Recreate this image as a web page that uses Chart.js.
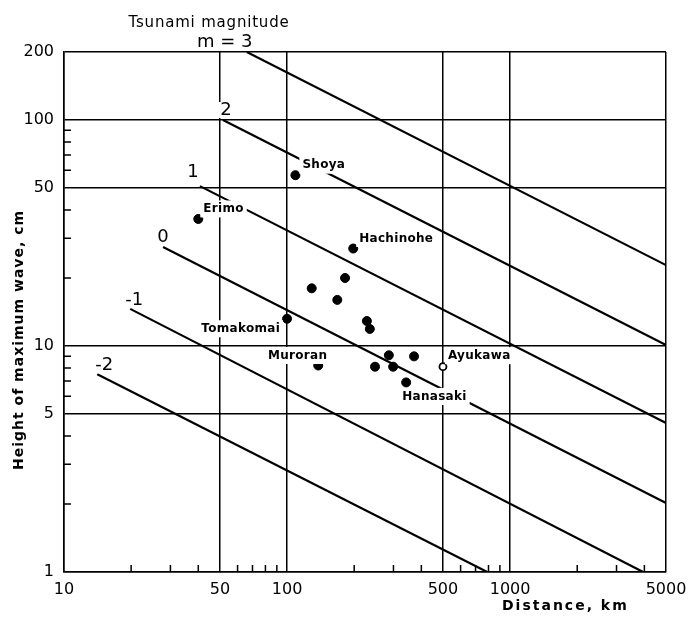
<!DOCTYPE html>
<html>
<head>
<meta charset="utf-8">
<title>Tsunami magnitude</title>
<script src="https://cdn.jsdelivr.net/npm/chart.js@4.4.1/dist/chart.umd.min.js"></script>
<style>
  html, body { margin: 0; padding: 0; background: #fff; }
  #wrap { width: 689px; height: 617px; position: relative; }
</style>
</head>
<body>
<div id="wrap"><canvas id="tsunami-chart"></canvas></div>
<script>
// Stations: distance (km) and height of maximum wave (cm)
const distances = [109, 40, 198, 129, 182, 168, 100, 228, 235, 138, 286, 371, 248, 299, 342];
const heights = [57, 36.5, 27, 18, 20, 16, 13.2, 12.9, 11.9, 8.2, 9.1, 9.0, 8.1, 8.1, 6.9];
const stationNames = ["Shoya", "Erimo", "Hachinohe", "", "", "", "Tomakomai", "", "", "Muroran", "", "", "", "", "Hanasaki"];

// Ayukawa is drawn as an open circle
const openDistances = [500];
const openHeights = [8.1];
const openNames = ["Ayukawa"];

// Tsunami magnitude lines (start and end points)
const magnitudes = ["m = 3", "2", "1", "0", "-1", "-2"];
const lineStartX = [66, 51.6, 40.7, 27.8, 19.8, 14.1];
const lineStartY = [200, 100, 51, 27.4, 14.6, 7.5];
const lineEndX = [5000, 5000, 5000, 5000, 3950, 790];
const lineEndY = [22.8, 10.1, 4.56, 2.02, 1, 1];

// Axis ticks
const xTicks = [10, 50, 100, 500, 1000, 5000];
const yTicks = [1, 5, 10, 50, 100, 200];
const xMinor = [20, 30, 40, 60, 70, 80, 90, 200, 300, 400, 600, 700, 800, 900, 2000, 3000, 4000];
const yMinor = [2, 3, 4, 6, 7, 8, 9, 20, 30, 40, 60, 70, 80, 90];

// label placement relative to its point, in px: [dx, dy, align]
const stationOffsets = {
  "Shoya": [7, -10, "left"],
  "Erimo": [5, -10, "left"],
  "Hachinohe": [6, -10, "left"],
  "Tomakomai": [-7, 10, "right"],
  "Muroran": [9, -10, "right"],
  "Hanasaki": [-4, 14, "left"],
  "Ayukawa": [5, -11, "left"]
};
const magnitudeOffsets = [[-22, -10], [3, -10], [-7, -14], [0, -10], [4, -9], [7, -9]];

const lineDatasets = magnitudes.map((m, i) => ({
  type: "line",
  label: m,
  data: [{ x: lineStartX[i], y: lineStartY[i] }, { x: lineEndX[i], y: lineEndY[i] }],
  borderColor: "#000",
  borderWidth: 2.2,
  pointRadius: 0,
  fill: false
}));

function boxedText(ctx, text, x, y, align, pad) {
  ctx.textAlign = align;
  const w = ctx.measureText(text).width;
  let left = x;
  if (align === "right") left = x - w;
  if (align === "center") left = x - w / 2;
  ctx.fillStyle = "#fff";
  ctx.fillRect(left - pad, y - 7 - pad / 2, w + pad * 2, 14 + pad);
  ctx.fillStyle = "#000";
  ctx.fillText(text, x, y);
}

const annotate = {
  id: "annotate",
  afterDatasetsDraw(chart) {
    const ctx = chart.ctx;
    const xs = chart.scales.x;
    const ys = chart.scales.y;
    ctx.save();

    // minor tick marks inside the frame
    ctx.strokeStyle = "#000";
    ctx.lineWidth = 1.5;
    ctx.beginPath();
    xMinor.forEach(v => {
      const px = xs.getPixelForValue(v);
      ctx.moveTo(px, ys.bottom);
      ctx.lineTo(px, ys.bottom - 7);
    });
    yMinor.forEach(v => {
      const py = ys.getPixelForValue(v);
      ctx.moveTo(xs.left, py);
      ctx.lineTo(xs.left + 7, py);
    });
    ctx.stroke();

    ctx.textBaseline = "middle";

    // station names
    ctx.font = "bold 12px 'DejaVu Sans'";
    ctx.letterSpacing = "0.3px";
    const names = stationNames.concat(openNames);
    const dx = distances.concat(openDistances);
    const hy = heights.concat(openHeights);
    names.forEach((name, i) => {
      if (!name) return;
      const o = stationOffsets[name];
      const px = xs.getPixelForValue(dx[i]);
      const py = ys.getPixelForValue(hy[i]);
      boxedText(ctx, name, px + o[0], py + o[1], o[2], 3);
    });

    // magnitude labels at the start of each line
    ctx.font = "18px 'DejaVu Sans'";
    ctx.letterSpacing = "0px";
    magnitudes.forEach((m, i) => {
      const px = xs.getPixelForValue(lineStartX[i]) + magnitudeOffsets[i][0];
      const py = ys.getPixelForValue(lineStartY[i]) + magnitudeOffsets[i][1];
      boxedText(ctx, m, px, py, "center", 2);
    });

    // titles
    ctx.fillStyle = "#000";
    ctx.font = "15px 'DejaVu Sans'";
    ctx.letterSpacing = "0.8px";
    ctx.textAlign = "center";
    ctx.fillText("Tsunami magnitude", 209, 23);

    ctx.font = "bold 14px 'DejaVu Sans'";
    ctx.letterSpacing = "2px";
    ctx.textAlign = "left";
    ctx.fillText("Distance, km", 502, 606);

    ctx.save();
    ctx.translate(19, 340);
    ctx.rotate(-Math.PI / 2);
    ctx.letterSpacing = "1px";
    ctx.textAlign = "center";
    ctx.fillText("Height of maximum wave, cm", 0, 0);
    ctx.restore();

    ctx.restore();
  }
};

const ctx = document.getElementById("tsunami-chart").getContext("2d");
const tsunamiChart = new Chart(ctx, {
  type: "scatter",
  data: {
    datasets: [
      ...lineDatasets,
      {
        label: "Stations",
        data: distances.map((d, i) => ({ x: d, y: heights[i] })),
        backgroundColor: "#000",
        borderColor: "#000",
        pointRadius: 4.5,
        pointHoverRadius: 4.5
      },
      {
        label: "Ayukawa",
        data: openDistances.map((d, i) => ({ x: d, y: openHeights[i] })),
        backgroundColor: "#fff",
        borderColor: "#000",
        borderWidth: 1.8,
        pointRadius: 3.5,
        pointHoverRadius: 3.5
      }
    ]
  },
  options: {
    responsive: true,
    maintainAspectRatio: false,
    animation: false,
    layout: { padding: { top: 52, right: 23, left: 0, bottom: 0 } },
    plugins: {
      legend: { display: false },
      tooltip: { enabled: false }
    },
    scales: {
      x: {
        type: "logarithmic",
        min: 10,
        max: 5000,
        afterBuildTicks: scale => { scale.ticks = xTicks.map(v => ({ value: v })); },
        afterFit: scale => {
          scale.height = 45;
          scale.paddingLeft = 0;
          scale.paddingRight = 0;
        },
        grid: { color: "#000", lineWidth: 1.5, drawTicks: false },
        border: { display: true, color: "#000", width: 1.5 },
        ticks: {
          color: "#000",
          padding: 8,
          maxRotation: 0,
          autoSkip: false,
          font: { family: "'DejaVu Sans'", size: 16 },
          callback: v => String(v)
        }
      },
      y: {
        type: "logarithmic",
        min: 1,
        max: 200,
        afterBuildTicks: scale => { scale.ticks = yTicks.map(v => ({ value: v })); },
        afterFit: scale => {
          scale.width = 64;
          scale.paddingTop = 0;
          scale.paddingBottom = 0;
        },
        grid: { color: "#000", lineWidth: 1.5, drawTicks: false },
        border: { display: true, color: "#000", width: 1.5 },
        ticks: {
          color: "#000",
          padding: 10,
          autoSkip: false,
          font: { family: "'DejaVu Sans'", size: 16 },
          callback: v => String(v)
        }
      }
    }
  },
  plugins: [annotate]
});
</script>
</body>
</html>
